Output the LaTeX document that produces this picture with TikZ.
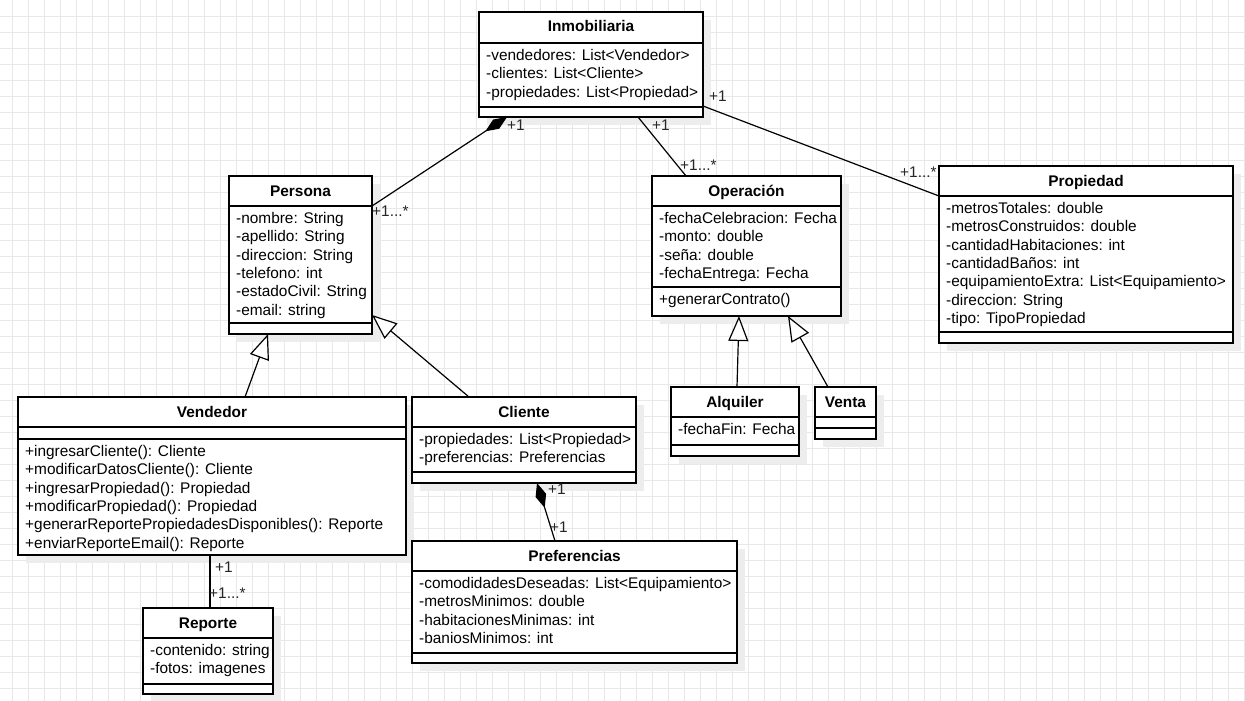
\documentclass[tikz,border=0pt]{standalone}
\usepackage{fontspec}
\setmainfont{Liberation Sans}
\usetikzlibrary{arrows.meta,calc}
\pgfdeclarelayer{gridlayer}
\pgfdeclarelayer{shadowlayer}
\pgfsetlayers{gridlayer,shadowlayer,main}
\definecolor{gridcol}{HTML}{E8E8E8}
\definecolor{shadowcol}{HTML}{EDEDED}
\newcommand\umlfont{\fontsize{15.4}{18.3}\selectfont}
\tikzset{
  umlbox/.style={draw=black, line width=1.4pt, fill=white, inner sep=0pt, outer sep=0pt, anchor=north west},
  umltitle/.style={font=\umlfont\bfseries, anchor=base, inner sep=0pt},
  member/.style={font=\umlfont, anchor=base west, inner sep=0pt},
  mult/.style={font=\umlfont, anchor=base west, inner sep=0pt, text=black!85},
  conn/.style={line width=1.2pt},
  comp/.style={conn, -{Diamond[length=26pt,width=11pt]}},
  inh/.style={conn, -{Triangle[length=25pt,width=20pt,fill=white]}},
}
% name, left, top, right, bottom, header-y, divider-y, title
\newcommand\umlclass[8]{%
  \begin{pgfonlayer}{shadowlayer}
    \fill[shadowcol] (#2+8,#3+8) rectangle (#4+8,#5+8);
  \end{pgfonlayer}
  \node[umlbox, minimum width={#4pt-#2pt}, minimum height={#5pt-#3pt}] (#1) at (#2,#3) {};
  \draw[line width=1.4pt] (#2,#6) -- (#4,#6);
  \draw[line width=1.4pt] (#2,#7) -- (#4,#7);
  \node[umltitle] (#1-title) at ({(#2+#4)/2},#3+20) {#8};
}
% name, x, first baseline y, list of lines
\newcommand\umllines[4]{%
  \foreach \t [count=\i] in {#4} {
    \node[member] (#1-\i) at (#2,{#3+18.3*(\i-1)}) {\t};
  }
}
\begin{document}
\begin{tikzpicture}[x=1pt,y=-1pt]
\useasboundingbox (0,0) rectangle (1245,701);
\begin{pgfonlayer}{gridlayer}
  \fill[white] (0,0) rectangle (1245,701);
  \foreach \gx in {12.3,28.3,...,1245} \draw[gridcol, line width=0.9pt] (\gx,0) -- (\gx,701);
  \foreach \gy in {16,32,...,700} \draw[gridcol, line width=0.9pt] (0,\gy) -- (1245,\gy);
\end{pgfonlayer}

\umlclass{inmob}{479}{12}{703}{117}{43}{107}{Inmobiliaria}
\umllines{inmob-a}{486}{60.5}{-vendedores: List<Vendedor>,-clientes: List<Cliente>,-propiedades: List<Propiedad>}

\umlclass{persona}{229}{176}{372}{334}{206}{323}{Persona}
\umllines{persona-a}{236}{223.5}{-nombre: String,-apellido: String,-direccion: String,-telefono: int,-estadoCivil: String,-email: string}

\umlclass{oper}{652}{176}{841}{316}{206}{287}{Operación}
\umllines{oper-a}{659}{223.5}{-fechaCelebracion: Fecha,-monto: double,-seña: double,-fechaEntrega: Fecha}
\umllines{oper-m}{659}{304.5}{+generarContrato()}

\umlclass{prop}{939}{166}{1233}{343}{196}{332}{Propiedad}
\umllines{prop-a}{946}{213.5}{-metrosTotales: double,-metrosConstruidos: double,-cantidadHabitaciones: int,-cantidadBaños: int,-equipamientoExtra: List<Equipamiento>,-direccion: String,-tipo: TipoPropiedad}

\umlclass{vend}{18}{397}{406}{555}{427}{439}{Vendedor}
\umllines{vend-m}{25}{456.5}{+ingresarCliente(): Cliente,+modificarDatosCliente(): Cliente,+ingresarPropiedad(): Propiedad,+modificarPropiedad(): Propiedad,+generarReportePropiedadesDisponibles(): Reporte,+enviarReporteEmail(): Reporte}

\umlclass{cliente}{412}{397}{636}{483}{427}{472}{Cliente}
\umllines{cliente-a}{419}{444.5}{-propiedades: List<Propiedad>,-preferencias: Preferencias}

\umlclass{pref}{412}{541}{737}{663}{571}{653}{Preferencias}
\umllines{pref-a}{419}{588.5}{-comodidadesDeseadas: List<Equipamiento>,-metrosMinimos: double,-habitacionesMinimas: int,-baniosMinimos: int}

\umlclass{alq}{671}{387}{799}{456}{417}{445}{Alquiler}
\umllines{alq-a}{678}{434.5}{-fechaFin: Fecha}

\umlclass{venta}{815}{387}{876}{439}{417}{428}{Venta}

\umlclass{rep}{143}{608}{273}{694}{638}{684}{Reporte}
\umllines{rep-a}{150}{655.5}{-contenido: string,-fotos: imagenes}

% connectors
\draw[comp] ([yshift=-30pt]persona.north east) -- ([xshift=28pt]inmob.south west);
\draw[conn] ([xshift=159pt]inmob.south west) -- ([xshift=34pt]oper.north west);
\draw[conn] ([yshift=11pt]inmob.south east) -- ([yshift=-30pt]prop.north west);
\draw[inh] ([xshift=227pt]vend.north west) -- ([xshift=39pt]persona.south west);
\draw[inh] ([xshift=57pt]cliente.north west) -- ([yshift=19pt]persona.south east);
\draw[inh] ([xshift=66pt]alq.north west) -- ([xshift=87pt]oper.south west);
\draw[inh] ([xshift=13pt]venta.north west) -- ([xshift=136pt]oper.south west);
\draw[comp] ([xshift=143pt]pref.north west) -- ([xshift=125pt]cliente.south west);
\draw[conn] ([xshift=192pt]vend.south west) -- ([xshift=67pt]rep.north west);

% multiplicities
\node[mult] (m1) at (507,130) {+1};
\node[mult] (m2) at (372,216.5) {+1...*};
\node[mult] (m3) at (652,130) {+1};
\node[mult] (m4) at (680,170) {+1...*};
\node[mult] (m5) at (709,102) {+1};
\node[mult] (m6) at (900,177) {+1...*};
\node[mult] (m7) at (215,572) {+1};
\node[mult] (m8) at (209,598) {+1...*};
\node[mult] (m9) at (548,494) {+1};
\node[mult] (m10) at (550,532) {+1};
\end{tikzpicture}
\end{document}
